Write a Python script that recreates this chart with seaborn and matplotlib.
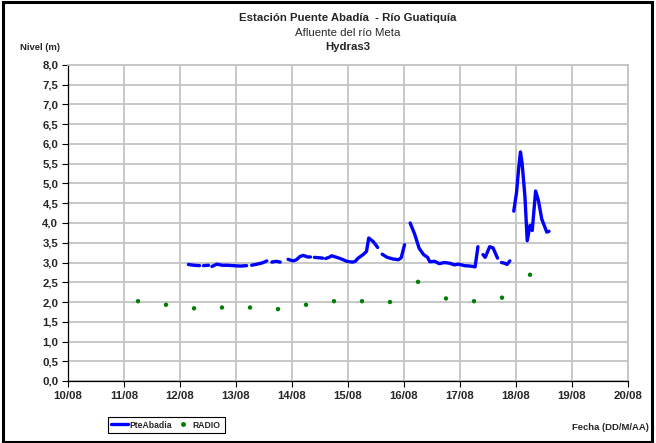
import numpy as np
import pandas as pd
import matplotlib
matplotlib.use("Agg")
import matplotlib.pyplot as plt
import matplotlib.patches as patches
from matplotlib.lines import Line2D
import seaborn as sns

sns.set_theme(style="whitegrid")
plt.rcParams["font.family"] = ["Liberation Sans", "DejaVu Sans"]

# ---------------------------------------------------------------------------
# data (x = day of August, NaN = gap in the record)
# ---------------------------------------------------------------------------
pte_day = [12.15, 12.25, 12.35, np.nan,
           12.42, 12.51, np.nan,
           12.57, 12.66, 12.75, 12.84, 12.95, 13.08, 13.19, np.nan,
           13.28, 13.38, 13.47, 13.55, np.nan,
           13.64, 13.72, 13.79, np.nan,
           13.93, 14.02, 14.08, 14.14, 14.20, 14.28, 14.33, np.nan,
           14.40, 14.48, 14.55, np.nan,
           14.60, 14.66, 14.71, 14.80, 14.88, 14.98, 15.08, 15.13, 15.18, 15.27,
           15.33, 15.37, 15.45, 15.53, np.nan,
           15.61, 15.70, 15.80, 15.90, 15.95, 16.01, np.nan,
           16.11, 16.19, 16.27, 16.35, 16.42, 16.46, 16.55, 16.63, 16.72, 16.82,
           16.90, 16.97, 17.08, 17.18, 17.27, 17.32, np.nan,
           17.41, 17.45, 17.53, 17.59, 17.67, np.nan,
           17.74, 17.80, 17.84, 17.89, np.nan,
           17.96, 18.01, 18.05, 18.08, 18.11, 18.16, 18.20, 18.25, 18.29, 18.35,
           18.40, 18.46, 18.55, 18.59]
pte_level = [2.95, 2.93, 2.92, np.nan,
             2.92, 2.93, np.nan,
             2.90, 2.96, 2.93, 2.93, 2.92, 2.91, 2.92, np.nan,
             2.93, 2.96, 2.99, 3.04, np.nan,
             3.01, 3.03, 3.01, np.nan,
             3.08, 3.04, 3.07, 3.15, 3.18, 3.14, 3.14, np.nan,
             3.13, 3.12, 3.11, np.nan,
             3.10, 3.13, 3.17, 3.13, 3.09, 3.03, 3.01, 3.03, 3.11, 3.20,
             3.28, 3.62, 3.53, 3.38, np.nan,
             3.21, 3.13, 3.09, 3.07, 3.12, 3.45, np.nan,
             4.00, 3.72, 3.36, 3.20, 3.13, 3.02, 3.03, 2.97, 3.00, 2.98,
             2.94, 2.96, 2.92, 2.91, 2.89, 3.40, np.nan,
             3.20, 3.13, 3.40, 3.37, 3.11, np.nan,
             3.00, 2.98, 2.95, 3.04, np.nan,
             4.30, 4.78, 5.42, 5.80, 5.50, 4.66, 3.55, 3.94, 3.81, 4.81,
             4.57, 4.10, 3.77, 3.79]

radio_day = [11.25, 11.75, 12.25, 12.75, 13.25, 13.75, 14.25, 14.75,
             15.25, 15.75, 16.25, 16.75, 17.25, 17.75, 18.25]
radio_level = [2.02, 1.93, 1.84, 1.86, 1.86, 1.82, 1.93, 2.02,
               2.02, 2.00, 2.51, 2.09, 2.02, 2.11, 2.69]

x_ticks = list(range(10, 21))
x_labels = ["10/08", "11/08", "12/08", "13/08", "14/08", "15/08",
            "16/08", "17/08", "18/08", "19/08", "20/08"]
y_ticks = np.arange(0, 8.01, 0.5)

pte = pd.DataFrame({"day": pte_day, "level": pte_level})
pte["seg"] = pte.level.isna().cumsum()
pte = pte.dropna()
radio = pd.DataFrame({"day": radio_day, "level": radio_level})

# ---------------------------------------------------------------------------
# plot
# ---------------------------------------------------------------------------
W, H = 656, 443
fig = plt.figure(figsize=(W / 100, H / 100), dpi=100)
fig.patch.set_facecolor("white")
ax = fig.add_axes([68 / W, 1 - 381 / H, (628 - 68) / W, (381 - 65) / H])

sns.lineplot(data=pte, x="day", y="level", units="seg", estimator=None,
             color="#0000ff", lw=2.4, ax=ax, legend=False)
sns.scatterplot(data=radio, x="day", y="level", color="#008000", s=10,
                edgecolor="none", ax=ax, legend=False)

ax.set_xlim(10, 20)
ax.set_ylim(0, 8)
ax.set_xticks(x_ticks)
ax.set_xticklabels(x_labels)
ax.set_yticks(y_ticks)
ax.set_yticklabels([f"{v:.1f}".replace(".", ",") for v in y_ticks])
ax.set_xlabel("")
ax.set_ylabel("")
ax.set_facecolor("white")
ax.grid(True, color="#c4c4c4", lw=1.3)
for side in ["top", "right"]:
    ax.spines[side].set_color("#c4c4c4")
    ax.spines[side].set_linewidth(1.3)
for side in ["left", "bottom"]:
    ax.spines[side].set_color("black")
    ax.spines[side].set_linewidth(0.9)
ax.tick_params(axis="both", direction="out", length=4, width=0.8, color="black",
               labelsize=8.2, pad=3, left=True, bottom=True)
for lbl in ax.get_xticklabels() + ax.get_yticklabels():
    lbl.set_fontweight("bold")

fig.text(348 / W, 1 - 18 / H, "Estación Puente Abadía  - Río Guatiquía",
         ha="center", va="center", fontsize=8.2, fontweight="bold")
fig.text(348 / W, 1 - 33 / H, "Afluente del río Meta",
         ha="center", va="center", fontsize=8.2)
fig.text(348 / W, 1 - 47 / H, "Hydras3",
         ha="center", va="center", fontsize=8.2, fontweight="bold")
fig.text(40 / W, 1 - 47 / H, "Nivel (m)", ha="center", va="center",
         fontsize=6.8, fontweight="bold")
fig.text(649 / W, 1 - 427 / H, "Fecha (DD/M/AA)", ha="right", va="center",
         fontsize=6.8, fontweight="bold")

handles = [Line2D([], [], color="#0000ff", lw=2.4),
           Line2D([], [], color="#008000", marker="o", ls="none", markersize=2.5)]
leg = fig.legend(handles, ["PteAbadia", "RADIO"], loc="center",
                 bbox_to_anchor=(166 / W, 1 - 425 / H), ncol=2, frameon=True,
                 fancybox=False, edgecolor="black", framealpha=1,
                 prop={"size": 6.2, "weight": "bold"}, handlelength=1.9,
                 handletextpad=0.15, columnspacing=0.4, borderpad=0.45)
leg.get_frame().set_linewidth(0.8)

fig.patches.append(patches.Rectangle((3 / W, 1 / H), 649 / W, 440 / H,
                                     transform=fig.transFigure, fill=False,
                                     edgecolor="black", lw=2.2))

fig.savefig("out.png", dpi=100)
